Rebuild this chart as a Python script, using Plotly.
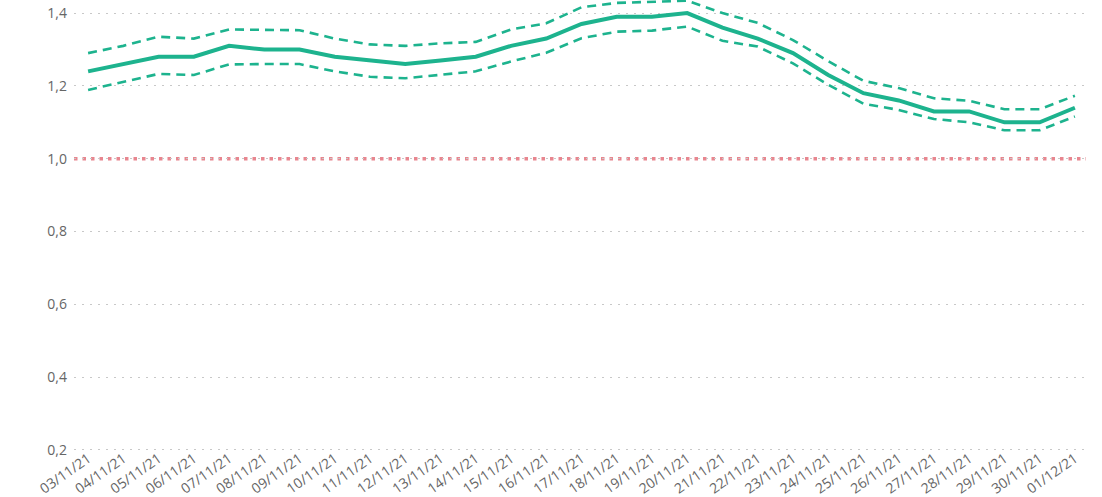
import plotly.graph_objects as go

dates = ["03/11/21", "04/11/21", "05/11/21", "06/11/21", "07/11/21", "08/11/21", "09/11/21",
         "10/11/21", "11/11/21", "12/11/21", "13/11/21", "14/11/21", "15/11/21", "16/11/21",
         "17/11/21", "18/11/21", "19/11/21", "20/11/21", "21/11/21", "22/11/21", "23/11/21",
         "24/11/21", "25/11/21", "26/11/21", "27/11/21", "28/11/21", "29/11/21", "30/11/21",
         "01/12/21"]

rt = [1.24, 1.26, 1.28, 1.28, 1.31, 1.30, 1.30, 1.28, 1.27, 1.26, 1.27, 1.28, 1.31, 1.33,
      1.37, 1.39, 1.39, 1.40, 1.36, 1.33, 1.29, 1.23, 1.18, 1.16, 1.13, 1.13, 1.10, 1.10, 1.14]

rt_upper = [1.29, 1.31, 1.335, 1.33, 1.355, 1.353, 1.353, 1.33, 1.314, 1.31, 1.317, 1.321,
            1.355, 1.372, 1.416, 1.428, 1.43, 1.434, 1.40, 1.373, 1.326, 1.268, 1.214, 1.194,
            1.166, 1.159, 1.136, 1.136, 1.173]

rt_lower = [1.189, 1.21, 1.233, 1.23, 1.259, 1.26, 1.26, 1.24, 1.225, 1.221, 1.23, 1.24,
            1.267, 1.291, 1.331, 1.349, 1.352, 1.363, 1.324, 1.308, 1.262, 1.203, 1.151, 1.134,
            1.109, 1.10, 1.078, 1.078, 1.116]

threshold = 1.0
y_ticks = [0.2, 0.4, 0.6, 0.8, 1.0, 1.2, 1.4]

teal = "#1DB38E"

fig = go.Figure()
fig.add_trace(go.Scatter(x=dates, y=rt_upper, mode="lines",
                         line=dict(color=teal, width=2.6, dash="9px,6px"),
                         name="Limite superior", showlegend=False))
fig.add_trace(go.Scatter(x=dates, y=rt_lower, mode="lines",
                         line=dict(color=teal, width=2.6, dash="9px,6px"),
                         name="Limite inferior", showlegend=False))
fig.add_trace(go.Scatter(x=dates, y=rt, mode="lines",
                         line=dict(color=teal, width=4),
                         name="Rt", showlegend=False))

fig.add_shape(type="line", xref="paper", x0=0, x1=0.997, yref="y", y0=threshold, y1=threshold,
              line=dict(color="#E8868F", width=3.5, dash="3.5px,5px"), layer="below")

fig.update_layout(
    width=1102, height=497,
    margin=dict(l=74, r=13, t=0, b=46, autoexpand=False),
    paper_bgcolor="white", plot_bgcolor="white",
    separators=",.",
    font=dict(family="Open Sans, Segoe UI, sans-serif", color="#666666", size=13),
    showlegend=False,
)
fig.update_xaxes(
    type="category", range=[-0.4, 28.4], showgrid=False, zeroline=False, showline=False,
    tickangle=-35, tickfont=dict(size=14, color="#666666"), ticks="",
    automargin=False, ticklabelstandoff=-4,
)
fig.update_yaxes(
    range=[0.197, 1.436], tickvals=y_ticks, tickformat=".1f",
    showgrid=True, gridcolor="#C8C8C8", griddash="2px,6px", gridwidth=1.2,
    zeroline=False, showline=False, ticks="", ticklabelstandoff=6,
    tickfont=dict(size=14, color="#666666"), automargin=False,
)

fig.write_html("out.html", config={"displayModeBar": False},
               post_script="document.body.style.margin='0';document.body.style.overflow='hidden';")
